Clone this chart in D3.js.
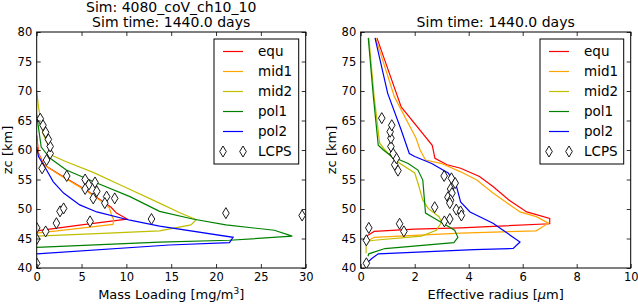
<!DOCTYPE html>
<html lang="en">
<head>
<meta charset="UTF-8">
<title>Sim 4080_coV_ch10_10</title>
<script src="https://d3js.org/d3.v7.min.js"></script>
<style>
  body { margin: 0; background: #fff; }
  svg text { font-family: "DejaVu Sans", sans-serif; fill: #000; }
</style>
</head>
<body>
<div id="chart"></div>
<script>
// ---- data: [value, altitude km] ----
const seriesNames = ["equ", "mid1", "mid2", "pol1", "pol2"];
const seriesColors = ["#ff0000", "#ffa500", "#bfbf00", "#008000", "#0000ff"];

// Mass loading [mg/m3]
const equLoad = [[0,46.3],[5,47.3],[10.1,48.3],[8.9,49.3],[8.3,50.3],[7.6,51.0],[5.5,53.2],[2.6,55.8],[0.8,57.5],[0.2,59.5],[0,62.5]];
const mid1Load = [[0,45.9],[4,46.6],[8.5,47.4],[8.6,48.1],[8.3,49.2],[8.1,50.2],[7.5,51.0],[5.4,53.2],[2.5,55.8],[0.7,57.6],[0.15,59.6],[0,62]];
const mid2Load = [[0,45.4],[8,45.9],[13.7,46.3],[17.2,47.3],[17.8,48.2],[15.9,49.4],[13.7,51.0],[10,53.6],[6.3,56.2],[3.3,58.0],[1.8,59.0],[0.7,62.8],[0.2,67.3],[0,70]];
const pol1Load = [[0,43.5],[13.7,44.4],[21.5,44.7],[28.5,45.4],[26.5,46.4],[21.1,47.3],[17.4,48.3],[13.7,49.6],[10.4,52.1],[6.7,54.4],[3.3,56.6],[1.5,58.6],[0.5,60.5],[0,66]];
const pol2Load = [[0,42.4],[14.8,43.9],[21.5,44.3],[21.9,45.2],[13.7,47.1],[10.4,48.1],[6.7,49.5],[4.8,50.7],[3.0,52.7],[1.85,54.6],[1.1,56.6],[0.2,58.9],[0,60.5]];
const lcpsLoad = [[0,40.8],[0,44.9],[0,46.8],[1.0,46.2],[2.2,47.6],[2.6,49.6],[3.0,50.1],[5.95,47.9],[12.8,48.3],[21.1,49.3],[29.6,48.9],
  [3.35,55.6],[5.4,55.0],[6.5,54.5],[5.8,54.1],[5.4,53.4],[6.7,53.0],[6.3,51.8],[7.8,52.1],[8.7,51.8],[7.6,51.0],
  [0.6,56.9],[1.1,58.3],[1.5,59.4],[1.5,60.6],[1.3,61.8],[1.0,63.0],[0.7,64.2],[0.4,65.3]];

// Effective radius [um]
const equRad = [[0.2,44.6],[0.25,45.5],[0.5,46.2],[2,46.6],[3.7,46.8],[7.0,47.5],[7.0,48.4],[6.15,49.5],[5.5,51.5],[4.9,53.8],[4.4,55.5],[3.7,56.9],[3.2,57.5],[2.75,58.6],[2.65,60.8],[1.5,67.3],[0.6,79]];
const mid1Rad = [[0.2,44.4],[0.5,45.2],[3.7,45.9],[6.5,46.3],[6.95,47.6],[6.5,48.7],[5.9,49.5],[4.9,52.7],[4.3,54.9],[3.7,56.3],[3.0,57.7],[2.4,58.3],[2.2,60.0],[2.05,62.0],[1.25,69.0],[0.55,79]];
const mid2Rad = [[0.2,42.5],[0.2,44.5],[0.5,44.7],[2.25,45.4],[2.8,46.4],[3.0,47.8],[2.9,48.7],[2.5,50.1],[2.3,51.5],[2.12,54.4],[2.0,56.1],[1.26,58.3],[0.9,60],[0.7,61.2],[0.5,69],[0.3,79]];
const pol1Rad = [[0.27,42.0],[0.3,42.4],[0.9,43.3],[3.45,44.3],[3.6,45.2],[3.48,46.4],[2.74,48.4],[2.4,49.3],[2.35,52.1],[2.3,54.9],[2.12,56.6],[1.76,57.7],[1.15,58.9],[0.84,60],[0.65,60.8],[0.47,69],[0.28,79]];
const pol2Rad = [[0.22,40.6],[0.22,40.8],[0.41,41.6],[0.65,42.4],[4.2,43.1],[5.65,43.3],[5.9,44.4],[4.9,47.6],[4.05,49.5],[3.7,51.2],[3.55,53.8],[3.24,56.1],[2.63,57.7],[2.0,58.9],[1.8,59.4],[1.5,63.4],[1.0,69.6],[0.53,79]];
const lcpsRad = [[0.21,40.8],[0.21,44.7],[0.3,46.8],[1.44,47.5],[1.6,46.2],[2.74,50.3],[3.1,47.9],[3.3,48.3],
  [3.09,55.6],[3.36,55.2],[3.5,54.4],[3.33,53.4],[3.38,52.7],[3.23,52.0],[3.33,51.5],[3.3,51.0],[3.54,49.9],[3.7,49.6],[3.73,48.9],
  [1.38,56.5],[1.26,57.5],[1.32,58.6],[1.2,59.4],[1.12,60.6],[1.12,62.0],[1.09,63.1],[1.15,64.2],[0.78,65.4]];

const xTicksLoad = [0, 5, 10, 15, 20, 25, 30];
const xTicksRad = [0, 2, 4, 6, 8, 10];
const yTicks = [40, 45, 50, 55, 60, 65, 70, 75, 80];

const svg = d3.select("#chart").append("svg")
  .attr("width", 638).attr("height", 304);

function diamond(g, cx, cy) {
  g.append("path")
    .attr("d", `M${cx},${cy-5.5}L${cx+3.3},${cy}L${cx},${cy+5.5}L${cx-3.3},${cy}Z`)
    .attr("fill", "#fff").attr("stroke", "#000").attr("stroke-width", 0.9);
}

function panel(opt) {
  const x = d3.scaleLinear().domain(opt.xDomain).range([opt.left, opt.right]);
  const y = d3.scaleLinear().domain([40, 80]).range([268, 32]);
  const g = svg.append("g");

  // clip
  const clipId = "clip" + opt.id;
  g.append("clipPath").attr("id", clipId).append("rect")
    .attr("x", opt.left).attr("y", 32).attr("width", opt.right - opt.left).attr("height", 236);
  const plot = g.append("g").attr("clip-path", `url(#${clipId})`);

  const line = d3.line().x(d => x(d[0])).y(d => y(d[1]));
  opt.series.forEach((s, i) => {
    plot.append("path").attr("d", line(s))
      .attr("fill", "none").attr("stroke", seriesColors[i]).attr("stroke-width", 1.2);
  });
  opt.lcps.forEach(d => diamond(plot, x(d[0]), y(d[1])));

  // axes (ticks inside, all four sides)
  const tk = 4;
  g.append("g").attr("transform", "translate(0,268)")
    .call(d3.axisBottom(x).tickValues(opt.xTicks).tickSize(-tk).tickPadding(5).tickFormat(d3.format("d")));
  g.append("g").attr("transform", "translate(0,32)")
    .call(d3.axisTop(x).tickValues(opt.xTicks).tickSize(-tk).tickFormat(""));
  g.append("g").attr("transform", `translate(${opt.left},0)`)
    .call(d3.axisLeft(y).tickValues(yTicks).tickSize(-tk).tickPadding(4.5));
  g.append("g").attr("transform", `translate(${opt.right},0)`)
    .call(d3.axisRight(y).tickValues(yTicks).tickSize(-tk).tickFormat(""));
  g.selectAll(".domain").remove();
  g.selectAll(".tick line").attr("stroke", "#000").attr("stroke-width", 0.8);
  g.selectAll(".tick text").style("font-size", "11.5px").style("font-family", "DejaVu Sans");

  g.append("rect").attr("x", opt.left).attr("y", 32)
    .attr("width", opt.right - opt.left).attr("height", 236)
    .attr("fill", "none").attr("stroke", "#000").attr("stroke-width", 1);

  // labels
  const mid = (opt.left + opt.right) / 2;
  g.append("text").attr("x", mid).attr("y", 298.5).attr("text-anchor", "middle")
    .style("font-size", "13px").html(opt.xLabel);
  g.append("text").attr("transform", `translate(${opt.left - 24.5},150) rotate(-90)`)
    .attr("text-anchor", "middle").style("font-size", "13px").text("zc [km]");
  opt.titles.forEach((t, i) => {
    g.append("text").attr("x", mid).attr("y", 26.5 - (opt.titles.length - 1 - i) * 14.5)
      .attr("text-anchor", "middle").style("font-size", "14px").text(t);
  });

  // legend
  const lg = g.append("g");
  lg.append("rect").attr("x", opt.legX).attr("y", 39).attr("width", opt.right - 7 - opt.legX).attr("height", 125)
    .attr("fill", "#fff").attr("stroke", "#000").attr("stroke-width", 1);
  seriesNames.concat(["LCPS"]).forEach((name, i) => {
    const ly = 51.5 + i * 20;
    const x0 = opt.legX + 9, x1 = opt.legX + 29;
    if (i < seriesNames.length) {
      lg.append("line").attr("x1", x0).attr("x2", x1).attr("y1", ly).attr("y2", ly)
        .attr("stroke", seriesColors[i]).attr("stroke-width", 1.2);
    } else {
      diamond(lg, x0, ly);
      diamond(lg, x1, ly);
    }
    lg.append("text").attr("x", opt.legX + 44).attr("y", ly + 4.5)
      .style("font-size", "13.5px").text(name);
  });
}

panel({
  id: "L", left: 36.7, right: 305.7, xDomain: [0, 30], xTicks: xTicksLoad,
  series: [equLoad, mid1Load, mid2Load, pol1Load, pol2Load], lcps: lcpsLoad,
  xLabel: "Mass Loading [mg/m<tspan dy='-5' font-size='9px'>3</tspan><tspan dy='5'>]</tspan>",
  titles: ["Sim: 4080_coV_ch10_10", "Sim time: 1440.0 days"], legX: 214
});
panel({
  id: "R", left: 360.7, right: 630.7, xDomain: [0, 10], xTicks: xTicksRad,
  series: [equRad, mid1Rad, mid2Rad, pol1Rad, pol2Rad], lcps: lcpsRad,
  xLabel: "Effective radius [<tspan font-style='italic'>μ</tspan>m]",
  titles: ["Sim time: 1440.0 days"], legX: 540
});
</script>
</body>
</html>
